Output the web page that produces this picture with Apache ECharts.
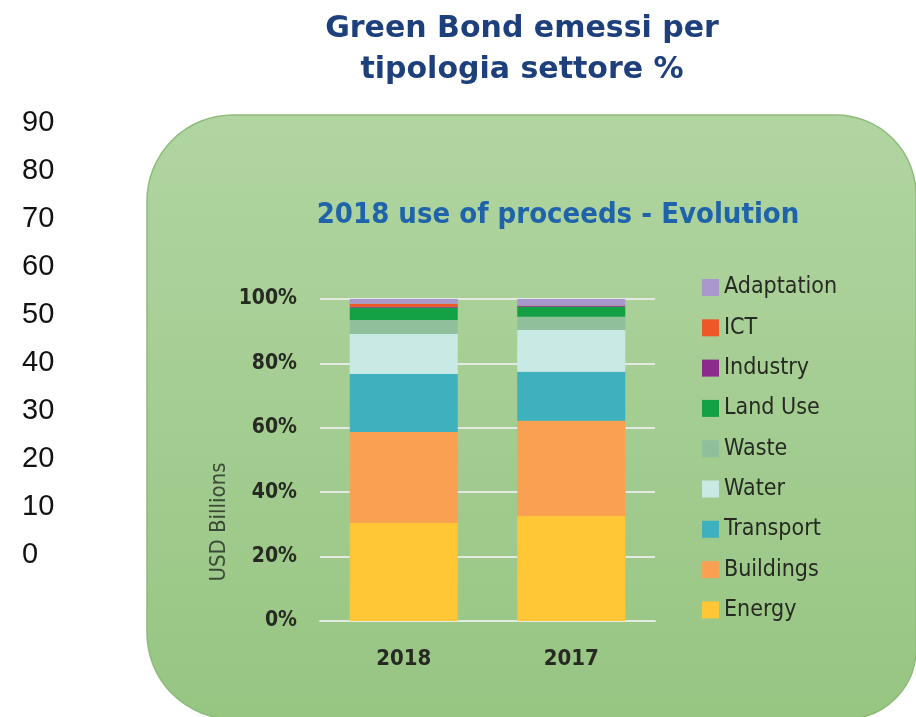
<!DOCTYPE html>
<html>
<head>
<meta charset="utf-8">
<title>Green Bond emessi per tipologia settore %</title>
<script src="https://cdn.jsdelivr.net/npm/echarts@6/dist/echarts.min.js"></script>
<style>
  html, body { margin: 0; padding: 0; background: #ffffff; }
  #chart { width: 916px; height: 717px; }
</style>
</head>
<body>
<div id="chart"></div>
<script>
// Outer scale ticks (0 – 90)
const outerMin = 0;
const outerMax = 90;
const outerStep = 10;

// Years shown in the stacked chart
const years = ['2018', '2017'];

// Share of proceeds per sector, % of total, one value per year
const energy     = [30.4, 32.6];
const buildings  = [28.3, 29.6];
const transport  = [18.0, 15.2];
const water      = [12.4, 13.0];
const waste      = [4.4, 4.1];
const landUse    = [3.8, 3.1];
const industry   = [0.3, 0.3];
const ict        = [0.9, 0.1];
const adaptation = [1.5, 2.0];

// Sectors from the bottom of the stack to the top
const sectors = [
  { name: 'Energy',     data: energy,     color: '#ffc635' },
  { name: 'Buildings',  data: buildings,  color: '#f9a053' },
  { name: 'Transport',  data: transport,  color: '#3fb0be' },
  { name: 'Water',      data: water,      color: '#c9e9e5' },
  { name: 'Waste',      data: waste,      color: '#8fc09b' },
  { name: 'Land Use',   data: landUse,    color: '#14a044' },
  { name: 'Industry',   data: industry,   color: '#8c2a8e' },
  { name: 'ICT',        data: ict,        color: '#ef5628' },
  { name: 'Adaptation', data: adaptation, color: '#a898cb' }
];

const narrow = "'Liberation Sans Narrow', 'DejaVu Sans Condensed', sans-serif";
const darkText = '#262a22';

const chart = echarts.init(document.getElementById('chart'), null, { renderer: 'canvas' });

const option = {
  backgroundColor: '#ffffff',
  animation: false,
  title: [
    {
      text: 'Green Bond emessi per\ntipologia settore %',
      left: 517,
      top: 4,
      textAlign: 'center',
      textStyle: {
        fontFamily: "'DejaVu Sans', sans-serif",
        fontWeight: 'bold',
        fontSize: 30,
        lineHeight: 41,
        color: '#1d3f7c'
      }
    },
    {
      text: '2018 use of proceeds - Evolution',
      left: 553,
      top: 196,
      textAlign: 'center',
      textStyle: {
        fontFamily: narrow,
        fontWeight: 'bold',
        fontSize: 29,
        color: '#1f63aa'
      }
    }
  ],
  graphic: {
    elements: [
      {
        type: 'rect',
        z: -10,
        silent: true,
        shape: { x: 147, y: 115, width: 769, height: 604, r: [86, 80, 70, 86] },
        style: {
          fill: new echarts.graphic.LinearGradient(0, 0, 0, 1, [
            { offset: 0, color: '#b1d5a1' },
            { offset: 1, color: '#97c582' }
          ]),
          stroke: '#8dbb78',
          lineWidth: 1.5
        }
      }
    ]
  },
  legend: {
    orient: 'vertical',
    left: 697,
    top: 271,
    itemWidth: 17,
    itemHeight: 17,
    itemGap: 17.3,
    icon: 'rect',
    data: sectors.map(s => s.name).reverse(),
    textStyle: {
      fontFamily: narrow,
      fontSize: 23,
      lineHeight: 22,
      color: darkText
    }
  },
  grid: [
    { left: 22, top: 123, width: 100, height: 432, containLabel: false },
    { left: 320, right: 261, top: 299, bottom: 96, containLabel: false }
  ],
  xAxis: [
    { type: 'category', gridIndex: 0, show: false, data: [''] },
    {
      type: 'category',
      gridIndex: 1,
      data: years,
      axisLine: { show: true, lineStyle: { color: '#e4e9e1', width: 2 } },
      axisTick: { show: false },
      axisLabel: {
        margin: 27,
        fontFamily: narrow,
        fontWeight: 'bold',
        fontSize: 22,
        color: darkText
      }
    }
  ],
  yAxis: [
    {
      type: 'value',
      gridIndex: 0,
      min: outerMin,
      max: outerMax,
      interval: outerStep,
      axisLine: { show: false },
      axisTick: { show: false },
      splitLine: { show: false },
      axisLabel: {
        align: 'left',
        margin: 0,
        fontFamily: "'Liberation Sans', Arial, sans-serif",
        fontSize: 29,
        color: '#111111'
      }
    },
    {
      type: 'value',
      gridIndex: 1,
      min: 0,
      max: 100,
      interval: 20,
      name: 'USD Billions',
      nameLocation: 'middle',
      nameGap: 90,
      nameTextStyle: {
        fontFamily: narrow,
        fontSize: 22,
        color: '#3a4a36',
        padding: [0, 124, 0, 0]
      },
      axisLine: { show: false },
      axisTick: { show: false },
      splitLine: { show: true, lineStyle: { color: '#e4e9e1', width: 2 } },
      axisLabel: {
        margin: 23,
        formatter: '{value}%',
        fontFamily: narrow,
        fontWeight: 'bold',
        fontSize: 21,
        color: darkText
      }
    }
  ],
  series: sectors.map(s => ({
    name: s.name,
    type: 'bar',
    stack: 'share',
    xAxisIndex: 1,
    yAxisIndex: 1,
    barWidth: 108,
    itemStyle: { color: s.color },
    data: s.data
  }))
};

chart.setOption(option);
</script>
</body>
</html>
